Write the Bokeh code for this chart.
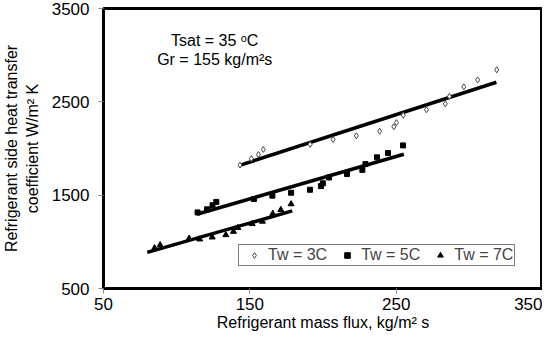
from bokeh.plotting import figure
from bokeh.models import ColumnDataSource, Legend, LegendItem, FixedTicker
from bokeh.core.properties import value
from bokeh.embed import file_html
from bokeh.resources import INLINE

# Tw = 3C (open diamonds)
x3 = [143.3, 151.0, 155.9, 159.2, 191.2, 206.9, 222.8, 238.7, 248.4, 250.2,
      254.8, 270.7, 283.6, 286.4, 296.2, 305.7, 318.7]
y3 = [1822, 1892, 1935, 1990, 2044, 2096, 2136, 2185, 2233, 2277,
      2358, 2415, 2479, 2558, 2661, 2735, 2843]
# Tw = 5C (filled squares)
x5 = [114.3, 120.8, 124.5, 127.1, 152.8, 165.4, 178.2, 191.1, 198.6, 199.9,
      204.1, 216.4, 226.9, 229.0, 236.9, 244.4, 254.7]
y5 = [1315, 1348, 1392, 1428, 1459, 1495, 1526, 1558, 1597, 1627,
      1689, 1727, 1771, 1833, 1905, 1952, 2033]
# Tw = 7C (triangles)
x7 = [84.9, 88.7, 108.5, 115.7, 124.3, 133.6, 138.8, 141.8, 151.6, 158.6,
      165.7, 171.2, 178.2]
y7 = [933, 966, 1036, 1028, 1049, 1074, 1110, 1150, 1193, 1218,
      1302, 1343, 1405]

# Linear fits (end points)
fit3_x = [143.5, 318.5]
fit3_y = [1822, 2710]
fit5_x = [113.8, 255.2]
fit5_y = [1296, 1938]
fit7_x = [79.9, 179.0]
fit7_y = [887, 1332]

x_ticks = [50, 150, 250, 350]
y_ticks = [500, 1500, 2500, 3500]

note_x = [126, 126]
note_y = [3160, 2955]
note_text = ["Tsat = 35 \u1d52C", "Gr = 155 kg/m\u00b2s"]

labels = ["Tw = 3C", "Tw = 5C", "Tw = 7C"]

FONT = "Liberation Sans"

p = figure(width=542, height=333, x_range=(50, 350), y_range=(500, 3500),
           output_backend="svg", toolbar_location=None,
           min_border_left=95, min_border_right=0, min_border_top=8,
           min_border_bottom=40)
p.grid.visible = False
p.outline_line_color = "black"
p.outline_line_width = 3
p.background_fill_color = "white"
p.border_fill_color = "white"

for ax in (p.xaxis[0], p.yaxis[0]):
    ax.axis_line_width = 3
    ax.axis_line_color = "black"
    ax.major_tick_out = 5
    ax.major_tick_in = 0
    ax.minor_tick_out = 0
    ax.minor_tick_in = 0
    ax.major_tick_line_color = "#888888"
    ax.major_label_text_font = FONT
    ax.major_label_text_font_size = "17px"
    ax.major_label_text_color = "black"
    ax.axis_label_text_font = FONT
    ax.axis_label_text_font_size = "16px"
    ax.axis_label_text_font_style = "normal"
    ax.axis_label_text_color = "black"

p.xaxis.ticker = FixedTicker(ticks=x_ticks)
p.yaxis.ticker = FixedTicker(ticks=y_ticks)
p.xaxis.major_label_standoff = 4
p.yaxis.major_label_standoff = 9
p.xaxis.axis_label = "Refrigerant mass flux, kg/m\u00b2 s"
p.yaxis.axis_label = "Refrigerant side heat transfer\ncoefficient W/m\u00b2 K"
p.xaxis.axis_label_standoff = 1
p.yaxis.axis_label_standoff = 8

p.line(fit3_x, fit3_y, line_color="black", line_width=3.5)
p.line(fit5_x, fit5_y, line_color="black", line_width=3.5)
p.line(fit7_x, fit7_y, line_color="black", line_width=3.5)

r3 = p.scatter(x3, y3, marker="diamond", size=6, fill_color="white",
               line_color="#444444", line_width=1)
r5 = p.scatter(x5, y5, marker="square", size=5, fill_color="black",
               line_color="black")
r7 = p.scatter(x7, y7, marker="triangle", size=6, fill_color="black",
               line_color="black")

src = ColumnDataSource(dict(x=note_x, y=note_y, t=note_text))
p.text(x="x", y="y", text="t", source=src, text_font=value(FONT),
       text_font_size="16px", text_align="center", text_baseline="middle",
       text_color="black")

legend = Legend(items=[LegendItem(label=labels[0], renderers=[r3]),
                       LegendItem(label=labels[1], renderers=[r5]),
                       LegendItem(label=labels[2], renderers=[r7])],
                orientation="horizontal", location=(135, 22))
legend.label_text_font = FONT
legend.label_text_font_size = "16px"
legend.label_standoff = 0
legend.label_height = 16
legend.glyph_width = 28
legend.glyph_height = 14
legend.spacing = 6
legend.padding = 1
legend.margin = 0
legend.border_line_color = "black"
legend.border_line_width = 1.5
legend.background_fill_alpha = 1
p.add_layout(legend, "center")

open("out.html", "w").write(file_html(p, INLINE))
